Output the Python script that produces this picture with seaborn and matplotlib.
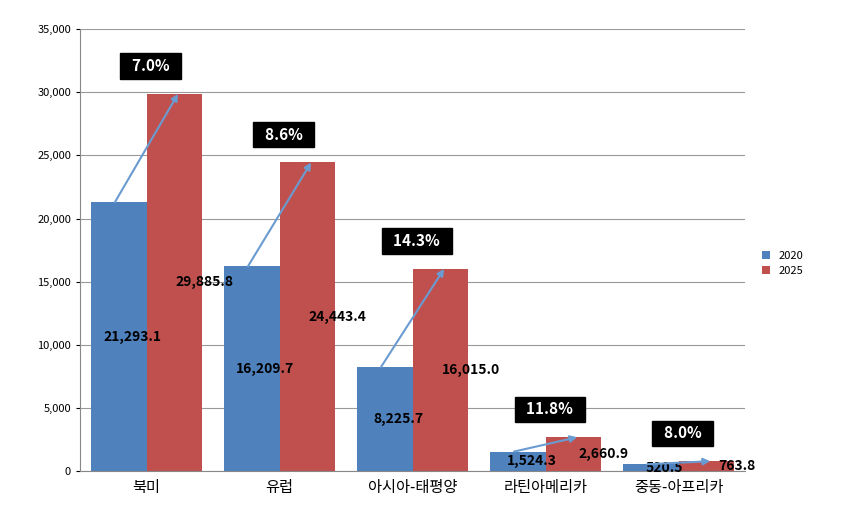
import numpy as np
import pandas as pd
import seaborn as sns
import matplotlib.pyplot as plt

plt.rcParams['font.family'] = 'Noto Sans CJK KR'

regions = ["북미", "유럽", "아시아-태평양", "라틴아메리카", "중동-아프리카"]
v2020 = [21293.1, 16209.7, 8225.7, 1524.3, 520.5]
v2025 = [29885.8, 24443.4, 16015.0, 2660.9, 763.8]
growth = ["7.0%", "8.6%", "14.3%", "11.8%", "8.0%"]

df = pd.DataFrame({"region": regions * 2,
                   "year": ["2020"] * 5 + ["2025"] * 5,
                   "value": v2020 + v2025})

fig, ax = plt.subplots(figsize=(8.42, 5.32), dpi=100)
fig.subplots_adjust(left=0.095, right=0.885, top=0.945, bottom=0.115)
sns.barplot(data=df, x="region", y="value", hue="year",
            palette=["#4f81bd", "#c0504d"], width=0.83, saturation=1, ax=ax)

ax.set_ylim(0, 35000)
ax.set_yticks(range(0, 35001, 5000))
ax.set_yticklabels([f"{t:,}" for t in range(0, 35001, 5000)], fontsize=8)
ax.yaxis.grid(True, color="#999999", lw=0.8)
ax.set_axisbelow(True)
for s in ["top", "right"]:
    ax.spines[s].set_visible(False)
ax.spines["left"].set_color("#888888")
ax.spines["bottom"].set_color("#888888")
ax.tick_params(axis="x", labelsize=11, length=0, pad=6)
ax.tick_params(axis="y", length=3)
ax.set_xlabel("")
ax.set_ylabel("")

w = 0.83 / 2
for i in range(5):
    xb, xr = i - w / 2, i + w / 2
    ax.text(xb + 0.1, v2020[i] / 2, f"{v2020[i]:,.1f}", ha="center", va="center",
            fontsize=10, fontweight="bold", color="black")
    ax.text(xr + 0.23, v2025[i] / 2, f"{v2025[i]:,.1f}", ha="center", va="center",
            fontsize=10, fontweight="bold", color="black")
    ax.annotate("", xy=(xr + 0.03, v2025[i]), xytext=(xb - 0.03, v2020[i]),
                arrowprops=dict(arrowstyle="-|>", color="#6a9bd1", lw=1.5,
                                shrinkA=0, shrinkB=0))
    ax.text(i + 0.03, v2025[i] + 2200, "  " + growth[i] + "  ", ha="center", va="center",
            fontsize=11, fontweight="bold", color="white",
            bbox=dict(boxstyle="square,pad=0.3", fc="black", ec="black"))

ax.legend(loc="center left", bbox_to_anchor=(1.01, 0.47), frameon=False,
          fontsize=8, handlelength=0.7, handleheight=0.7)
fig.savefig("out.png")
